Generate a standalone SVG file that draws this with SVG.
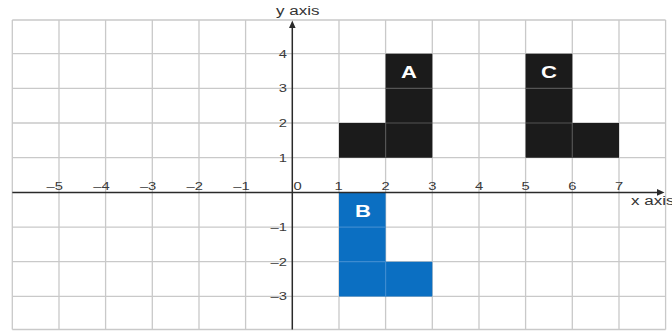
<svg xmlns="http://www.w3.org/2000/svg" width="672" height="331" viewBox="0 0 672 331">
<style>
.g{stroke:#c9c9c9;stroke-width:1.3;fill:none}
.ax{stroke:#2a2a2a;stroke-width:1.5;fill:none}
.blk{fill:#1b1b1b}
.blu{fill:#0b6fc2}
.dk{stroke:#555;stroke-width:1.2}
.lb{stroke:#3d8bd0;stroke-width:1.2}
.t{font-family:"Liberation Sans",Arial,sans-serif;font-size:11px;fill:#3a3a3a}
.ti{font-family:"Liberation Sans",Arial,sans-serif;font-size:12.5px;fill:#333}
.L{font-family:"Liberation Sans",Arial,sans-serif;font-size:17px;font-weight:bold;fill:#fff;text-anchor:middle}
</style>
<rect width="672" height="331" fill="#fff"/>
<g id="grid">
<path class="g" d="M12.3 20V329.5M59 20V329.5M105.6 20V329.5M152.3 20V329.5M199 20V329.5M245.6 20V329.5M339 20V329.5M385.6 20V329.5M432.3 20V329.5M479 20V329.5M525.6 20V329.5M572.3 20V329.5M619 20V329.5M665.6 20V329.5"/>
<path class="g" d="M12.3 20H665.6M12.3 53.7H665.6M12.3 88.4H665.6M12.3 123H665.6M12.3 157.7H665.6M12.3 227.1H665.6M12.3 261.7H665.6M12.3 296.4H665.6M12.3 329.5H665.6"/>
</g>
<g id="shape-A">
<path class="blk" d="M339 123H385.6V53.7H432.3V157.7H339Z"/>
<path class="dk" d="M385.6 123V157.7M385.6 88.4H432.3M385.6 123H432.3"/>
<text class="L" transform="translate(409,78) scale(1.3,1)">A</text>
</g>
<g id="shape-C">
<path class="blk" d="M525.6 53.7H572.3V123H619V157.7H525.6Z"/>
<path class="dk" d="M572.3 123V157.7M525.6 88.4H572.3M525.6 123H572.3"/>
<text class="L" transform="translate(549,78) scale(1.3,1)">C</text>
</g>
<g id="shape-B">
<path class="blu" d="M339 192.4H385.6V261.7H432.3V296.4H339Z"/>
<path class="lb" d="M385.6 261.7V296.4M339 227.1H385.6M339 261.7H385.6"/>
<text class="L" transform="translate(363,217) scale(1.3,1)">B</text>
</g>
<g id="axes">
<path class="ax" d="M292.3 329.5V27M12.3 192.4H658"/>
<path fill="#2a2a2a" d="M292.3 20.5L295.6 28H289Z M664.5 192.4L657 189.1V195.7Z"/>
</g>
<g id="labels">
<text class="ti" transform="translate(276,14.5) scale(1.36,1)">y axis</text>
<text class="ti" transform="translate(631,205) scale(1.36,1)">x axis</text>
<g class="t" text-anchor="end">
<text transform="translate(63,189.5) scale(1.34,1)">–5</text>
<text transform="translate(109.6,189.5) scale(1.34,1)">–4</text>
<text transform="translate(156.3,189.5) scale(1.34,1)">–3</text>
<text transform="translate(203,189.5) scale(1.34,1)">–2</text>
<text transform="translate(249.6,189.5) scale(1.34,1)">–1</text>
<text transform="translate(287,57.7) scale(1.34,1)">4</text>
<text transform="translate(287,92.4) scale(1.34,1)">3</text>
<text transform="translate(287,127) scale(1.34,1)">2</text>
<text transform="translate(287,161.7) scale(1.34,1)">1</text>
<text transform="translate(287,231.1) scale(1.34,1)">–1</text>
<text transform="translate(287,265.7) scale(1.34,1)">–2</text>
<text transform="translate(287,300.4) scale(1.34,1)">–3</text>
</g>
<g class="t" text-anchor="middle">
<text transform="translate(338.5,189.5) scale(1.34,1)">1</text>
<text transform="translate(385.6,189.5) scale(1.34,1)">2</text>
<text transform="translate(432.3,189.5) scale(1.34,1)">3</text>
<text transform="translate(479,189.5) scale(1.34,1)">4</text>
<text transform="translate(525.6,189.5) scale(1.34,1)">5</text>
<text transform="translate(572.3,189.5) scale(1.34,1)">6</text>
<text transform="translate(619,189.5) scale(1.34,1)">7</text>
</g>
<text class="t" transform="translate(293.5,189.5) scale(1.34,1)">0</text>
</g>
</svg>
